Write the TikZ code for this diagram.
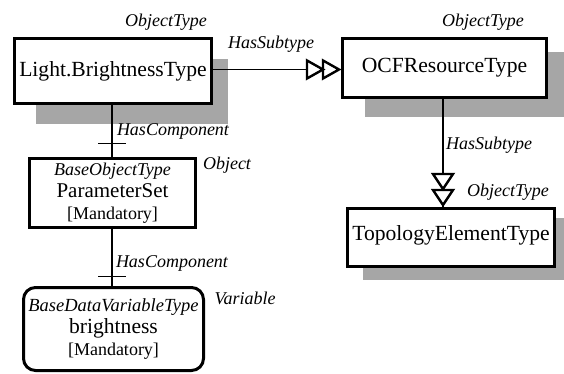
\documentclass[tikz,border=0pt]{standalone}
\usepackage{fontspec}
\setmainfont{Liberation Serif}
\usetikzlibrary{calc}
\definecolor{shadowc}{RGB}{166,166,166}
\tikzset{
  box/.style={draw=black, line width=3pt, fill=white, inner sep=0pt, align=center, font=\fontsize{21.6}{23}\selectfont},
  lbl/.style={font=\fontsize{18}{20}\selectfont\itshape, inner sep=0pt},
  conn/.style={line width=1.5pt},
  tri/.style={draw=black, fill=white, line width=2.4pt, line join=miter},
  shadowbox/.style={fill=shadowc},
}
\begin{document}
\begin{tikzpicture}[x=1pt,y=-1pt]
\useasboundingbox (0,0) rectangle (564,374);
% shadows
\fill[shadowbox] (36,59) rectangle (228,124);
\fill[shadowbox] (365,52) rectangle (564,117);
\fill[shadowbox] (363,218) rectangle (564,280);
% boxes
\node[box, minimum width=197pt, minimum height=65pt] (light) at (113,71) {Light.BrightnessType};
\node[box, minimum width=204pt, minimum height=59pt] (ocf) at (444.5,68) {OCFResourceType};
\node[box, minimum width=207pt, minimum height=58pt, text depth=0pt] (topo) at (451,237.5) {\raisebox{8pt}{TopologyElementType}};
\node[box, minimum width=166pt, minimum height=69pt] (param) at (112.5,193)
  {\fontsize{18}{20}\selectfont\itshape BaseObjectType\\[-1pt]{\fontsize{21}{23}\selectfont ParameterSet}\\[-1pt]{\fontsize{18}{20}\selectfont [Mandatory]}};
\node[box, rounded corners=12pt, minimum width=180pt, minimum height=83pt] (bright) at (113.5,329)
  {{\fontsize{18.5}{20}\selectfont\itshape BaseDataVariableType}\\[-1pt]brightness\\[-1pt]{\fontsize{18}{20}\selectfont [Mandatory]}};
% connectors
\coordinate (h) at (light.east |- 0,69.5);
\coordinate (hend) at (ocf.west |- 0,69.5);
\draw[conn] (h) -- (hend);
\coordinate (v) at (ocf.south -| 443,0);
\coordinate (vend) at (topo.north -| 443,0);
\draw[conn] (v) -- (vend);
% double open triangles (subtype)
\foreach \o in {2,18} {
  \draw[tri] ($(hend)+(-\o,0)$) -- ($(hend)+(-\o-16,-9)$) -- ($(hend)+(-\o-16,9)$) -- cycle;
  \draw[tri] ($(vend)+(0,-\o)$) -- ($(vend)+(-10,-\o-15)$) -- ($(vend)+(10,-\o-15)$) -- cycle;
}
\draw[conn] (light.south -| 112,0) -- (param.north -| 112,0);
\draw[conn] (param.south -| 112,0) -- (bright.north -| 112,0);
\coordinate (t1) at (112,143.5);
\coordinate (t2) at (112,276.5);
\draw[conn] ([xshift=-14pt]t1) -- ([xshift=14pt]t1);
\draw[conn] ([xshift=-14pt]t2) -- ([xshift=14pt]t2);
% labels
\node[lbl] (l1) at (166,22) {ObjectType};
\node[lbl] (l2) at (271,44) {HasSubtype};
\node[lbl] (l3) at (483,22) {ObjectType};
\node[lbl] (l4) at (489,145) {HasSubtype};
\node[lbl] (l5) at (508,192) {ObjectType};
\node[lbl] (l6) at (173,131) {HasComponent};
\node[lbl] (l7) at (227,165) {Object};
\node[lbl] (l8) at (172,263) {HasComponent};
\node[lbl] (l9) at (245,298) {Variable};
\end{tikzpicture}
\end{document}
